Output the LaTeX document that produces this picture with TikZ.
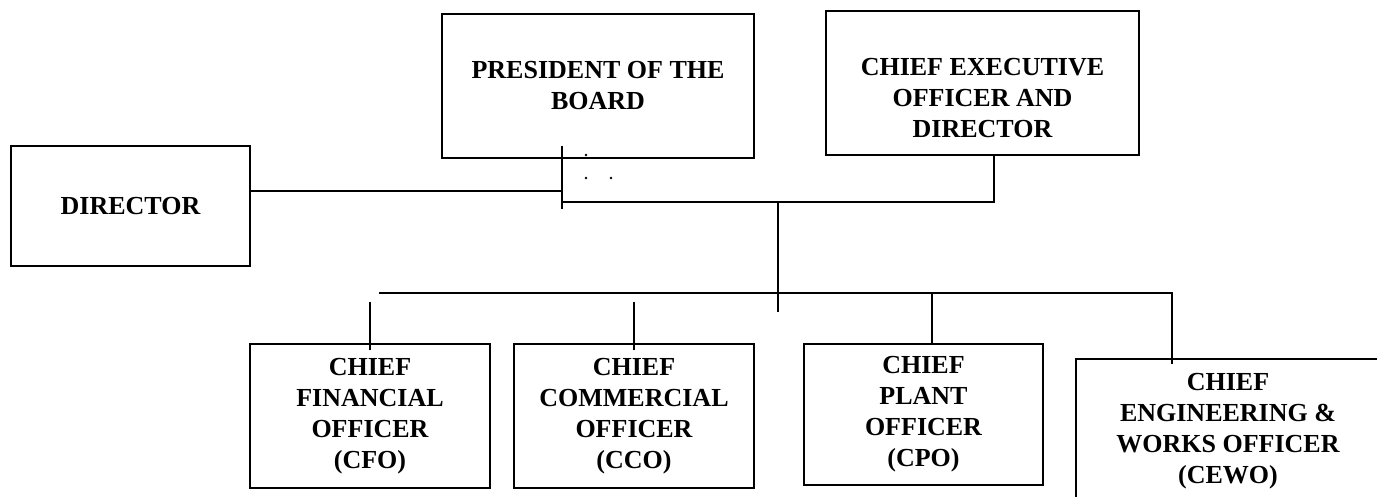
\documentclass[tikz,border=0pt]{standalone}
\usepackage{fontspec}
\setmainfont{Liberation Serif}
\usetikzlibrary{positioning}

\begin{document}
\begin{tikzpicture}[x=1pt, y=-1pt,
  box/.style={draw, line width=1.6pt, align=center, inner sep=0pt, font=\fontsize{26}{31}\selectfont\bfseries},
  txt/.style={align=center, inner sep=0pt, font=\fontsize{26}{31}\selectfont\bfseries},
  link/.style={line width=1.4pt}]
  \useasboundingbox (0,0) rectangle (1377,496);
  \node[box, minimum width=239, minimum height=120] (dir) at (130.5,206) {DIRECTOR};
  \node[box, minimum width=312, minimum height=144] (pres) at (598,86) {PRESIDENT OF THE\\BOARD};
  \node[box, minimum width=313, minimum height=144] (ceo) at (982.5,83) {};
  \node[txt] (ceo-txt) at (982.5,98) {CHIEF EXECUTIVE\\OFFICER AND\\DIRECTOR};
  \node[box, minimum width=240, minimum height=144] (cfo) at (370,416) {CHIEF\\FINANCIAL\\OFFICER\\(CFO)};
  \node[box, minimum width=240, minimum height=144] (cco) at (634,416) {CHIEF\\COMMERCIAL\\OFFICER\\(CCO)};
  \node[box, minimum width=239, minimum height=141] (cpo) at (923.5,414.5) {CHIEF\\PLANT\\OFFICER\\(CPO)};
  \node[box, minimum width=304, minimum height=144] (cewo) at (1228,431) {CHIEF\\ENGINEERING \&\\WORKS OFFICER\\(CEWO)};

  \coordinate (bar-top) at (562,146);
  \coordinate (bar-bot) at (562,209);
  \coordinate (dir-in) at (562,191);
  \coordinate (top-l) at (562,202);
  \coordinate (top-r) at (994,202);
  \coordinate (mid-up) at (778,202);
  \coordinate (mid-low) at (778,312);
  \coordinate (low-l) at (379,293);
  \coordinate (low-r) at (1172,293);
  \coordinate (cfo-up) at (370,302);
  \coordinate (cco-up) at (634,302);
  \coordinate (cpo-up) at (932,293);
  \coordinate (cewo-in) at (1172,364);

  \draw[link] (bar-top) -- (bar-bot);
  \draw[link] (dir.east |- dir-in) -- (dir-in);
  \draw[link] (top-l) -- (top-r) -- (top-r |- ceo.south);
  \draw[link] (mid-up) -- (mid-low);
  \draw[link] (low-l) -- (low-r) -- (cewo-in);
  \draw[link] (cfo-up) -- ([yshift=-7pt]cfo.north);
  \draw[link] (cco-up) -- ([yshift=-7pt]cco.north);
  \draw[link] (cpo-up) -- (cpo-up |- cpo.north);
  \fill (586,155) circle (1.3) (586,178) circle (1.3) (611,178) circle (1.3);
\end{tikzpicture}
\end{document}
